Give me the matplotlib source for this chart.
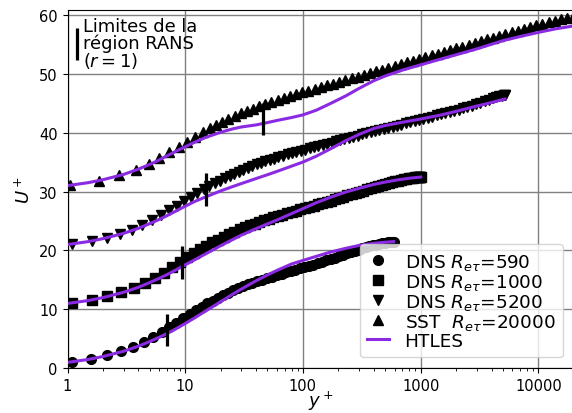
import matplotlib
matplotlib.use("Agg")
import matplotlib.pyplot as plt
import matplotlib.ticker as mticker
import numpy as np

# ---------------- data ----------------
offsets = [0, 10, 20, 30]

dns590 = [(1.09, 1.15), (1.57, 1.62), (2.15, 2.2), (2.83, 2.87), (3.62, 3.65), (4.47, 4.45),
          (5.36, 5.3), (6.31, 6.1), (7.3, 6.95), (8.4, 7.75), (9.6, 8.5), (10.9, 9.2),
          (12.3, 9.85), (13.8, 10.45), (15.4, 11.0), (17.1, 11.5), (19, 12.0), (21, 12.45),
          (23, 12.85), (25.5, 13.25), (28, 13.6), (31, 13.95), (34, 14.25), (37, 14.5),
          (41, 14.8), (45, 15.05), (50, 15.3), (55, 15.55), (60, 15.8), (66, 16.05),
          (72, 16.3), (79, 16.5), (86, 16.7), (94, 16.95), (103, 17.15), (112, 17.35),
          (122, 17.6), (133, 17.85), (145, 18.05), (158, 18.3), (172, 18.55), (187, 18.8),
          (203, 19.0), (220, 19.25), (238, 19.5), (257, 19.7), (277, 19.95), (298, 20.15),
          (320, 20.35), (343, 20.55), (367, 20.7), (392, 20.85), (418, 21.0), (445, 21.1),
          (472, 21.2), (500, 21.3), (527, 21.35), (552, 21.4), (572, 21.42), (585, 21.44),
          (590, 21.45)]

dns1000 = [(1.09, 1.15), (1.6, 1.65), (2.17, 2.22), (2.86, 2.9), (3.66, 3.68), (4.55, 4.52),
           (5.5, 5.4), (6.55, 6.25), (7.7, 7.2), (8.95, 8.1), (10.3, 8.85), (11.8, 9.55),
           (13.4, 10.2), (15.1, 10.8), (17, 11.35), (19, 11.85), (21.2, 12.35), (23.6, 12.8),
           (26.2, 13.2), (29, 13.6), (32, 13.95), (35.3, 14.25), (38.8, 14.55), (42.6, 14.85),
           (46.7, 15.1), (51, 15.35), (56, 15.6), (61, 15.85), (67, 16.05), (73, 16.3),
           (80, 16.5), (87, 16.7), (95, 16.95), (104, 17.15), (113, 17.35), (123, 17.55),
           (134, 17.8), (146, 18.0), (159, 18.25), (173, 18.45), (188, 18.7), (204, 18.9),
           (221, 19.1), (239, 19.35), (259, 19.55), (280, 19.75), (302, 19.95), (326, 20.15),
           (351, 20.35), (378, 20.55), (406, 20.75), (436, 20.9), (467, 21.1), (500, 21.25),
           (534, 21.4), (569, 21.55), (605, 21.7), (642, 21.85), (680, 21.95), (718, 22.05),
           (756, 22.15), (793, 22.25), (829, 22.3), (863, 22.35), (895, 22.4), (923, 22.45),
           (948, 22.48), (968, 22.5), (984, 22.5), (995, 22.5), (1000, 22.5)]

dns5200 = [(1.1, 1.1), (1.6, 1.6), (2.15, 2.15), (2.8, 2.8), (3.5, 3.5), (4.3, 4.3),
           (5.2, 5.15), (6.2, 5.95), (7.3, 6.8), (8.5, 7.6), (9.8, 8.4), (11.2, 9.1),
           (12.7, 9.75), (14.3, 10.35), (16, 10.9), (17.8, 11.4), (19.7, 11.85), (21.7, 12.25),
           (23.8, 12.65), (26, 13.0), (28.5, 13.35), (31, 13.7), (34, 14.0), (37, 14.3),
           (40.5, 14.6), (44, 14.85), (48, 15.1), (52.5, 15.4), (57, 15.6), (62, 15.85),
           (68, 16.05), (74, 16.3), (81, 16.5), (88, 16.7), (96, 16.9), (105, 17.1),
           (114, 17.3), (124, 17.5), (135, 17.7), (147, 17.9), (160, 18.1), (175, 18.3),
           (190, 18.5), (207, 18.7), (225, 18.9), (245, 19.1), (267, 19.3), (291, 19.5),
           (317, 19.7), (345, 19.85), (376, 20.05), (410, 20.2), (447, 20.4), (487, 20.55),
           (530, 20.75), (578, 20.95), (630, 21.15), (686, 21.35), (748, 21.55), (815, 21.75),
           (888, 21.95), (968, 22.1), (1055, 22.3), (1150, 22.5), (1253, 22.7), (1366, 22.9),
           (1489, 23.1), (1623, 23.3), (1769, 23.5), (1928, 23.7), (2100, 23.9), (2290, 24.1),
           (2495, 24.35), (2720, 24.55), (2960, 24.8), (3220, 25.05), (3500, 25.3),
           (3790, 25.55), (4080, 25.8), (4370, 26.0), (4640, 26.15), (4880, 26.25),
           (5060, 26.3), (5170, 26.35), (5200, 26.35)]

sst20000 = [(1.05, 1.05), (1.86, 1.85), (2.75, 2.75), (3.82, 3.72), (4.95, 4.75), (6.03, 5.75),
            (7.32, 6.65), (8.83, 7.6), (10.4, 8.45), (12.1, 9.25), (14.1, 10.05), (16.2, 10.75),
            (18.3, 11.3), (20.6, 11.85), (23.3, 12.35), (26.3, 12.8), (29.6, 13.25),
            (33.4, 13.65), (37.7, 14.05), (42.5, 14.45), (48, 14.85), (54, 15.2), (61, 15.55),
            (69, 15.9), (77.6, 16.2), (87.5, 16.5), (98.7, 16.8), (111, 17.1), (126, 17.4),
            (142, 17.7), (160, 18.0), (180, 18.3), (203, 18.6), (229, 18.9), (259, 19.2),
            (292, 19.5), (329, 19.8), (371, 20.1), (419, 20.4), (472, 20.7), (533, 21.0),
            (601, 21.3), (678, 21.6), (765, 21.9), (863, 22.2), (973, 22.5), (1098, 22.8),
            (1238, 23.1), (1397, 23.4), (1576, 23.7), (1777, 24.0), (2005, 24.3), (2261, 24.6),
            (2551, 24.9), (2877, 25.2), (3245, 25.5), (3661, 25.8), (4129, 26.1), (4658, 26.4),
            (5254, 26.7), (5927, 27.0), (6685, 27.3), (7541, 27.6), (8506, 27.9), (9595, 28.2),
            (10823, 28.5), (12209, 28.75), (13772, 29.0), (15535, 29.2), (17523, 29.4),
            (19766, 29.55)]

htles590_y = [1, 1.5, 2, 3, 4, 5, 6, 7, 8, 10, 12, 15, 20, 25, 30, 40, 50, 60, 80, 100,
              130, 170, 230, 300, 400, 500, 590]
htles590_u = [1.0, 1.5, 2.0, 2.9, 3.75, 4.55, 5.25, 5.9, 6.5, 7.6, 8.55, 9.75, 11.3, 12.5,
              13.45, 14.85, 15.85, 16.6, 17.7, 18.3, 19.0, 19.7, 20.35, 20.85, 21.2, 21.4, 21.5]

htles1000_y = [1, 1.5, 2, 3, 4, 5, 6, 7, 8, 10, 12, 15, 20, 25, 30, 40, 50, 60, 80, 100,
               130, 170, 230, 300, 400, 500, 650, 800, 1000]
htles1000_u = [1.0, 1.5, 2.0, 2.9, 3.75, 4.55, 5.25, 5.9, 6.5, 7.55, 8.4, 9.45, 10.8, 11.8,
               12.6, 13.7, 14.5, 15.15, 16.25, 17.1, 18.1, 19.0, 19.9, 20.55, 21.2, 21.6,
               22.0, 22.25, 22.45]

htles5200_y = [1, 1.5, 2, 3, 4, 5, 6, 7, 8, 10, 12, 15, 20, 25, 30, 40, 50, 60, 80, 100,
               130, 170, 230, 300, 400, 500, 700, 1000, 1500, 2000, 3000, 4000, 5200]
htles5200_u = [1.0, 1.5, 2.0, 2.9, 3.75, 4.55, 5.25, 5.9, 6.5, 7.5, 8.3, 9.1, 10.1, 10.8,
               11.35, 12.2, 12.85, 13.4, 14.3, 15.0, 16.0, 17.2, 18.6, 19.7, 20.7, 21.2,
               21.75, 22.3, 23.0, 23.6, 24.5, 25.1, 25.7]

htles20000_y = [1, 1.5, 2, 3, 4, 5, 6, 7, 8, 10, 12, 15, 20, 25, 30, 40, 50, 60, 80, 100,
                130, 170, 230, 300, 400, 500, 700, 1000, 1500, 2000, 3000, 5000, 7000,
                10000, 14000, 20000]
htles20000_u = [1.0, 1.5, 2.0, 2.9, 3.8, 4.6, 5.35, 6.05, 6.65, 7.6, 8.35, 9.2, 10.05, 10.6,
                10.95, 11.3, 11.7, 12.05, 12.55, 13.0, 13.8, 14.9, 16.2, 17.5, 18.8, 19.6,
                20.6, 21.5, 22.5, 23.2, 24.2, 25.6, 26.3, 27.0, 27.6, 28.1]

# RANS-region limits (vertical bars): position y+ and extent in plotted U+
bar_x = [7.0, 9.3, 15.0, 46.0]
bar_lo = [3.7, 15.2, 27.6, 39.6]
bar_hi = [9.15, 20.7, 33.2, 45.1]

labels = [r"DNS $R_{e\tau}$=590", r"DNS $R_{e\tau}$=1000", r"DNS $R_{e\tau}$=5200",
          r"SST  $R_{e\tau}$=20000"]
markers = ["o", "s", "v", "^"]
xticks = [1, 10, 100, 1000, 10000]
xtick_labels = ["1", "10", "100", "1000", "10000"]
yticks = [0, 10, 20, 30, 40, 50, 60]

# ---------------- figure ----------------
W, H = 572, 414
fig = plt.figure(figsize=(W / 100, H / 100), dpi=100)
ax = fig.add_axes([67.5 / W, (H - 369.3) / H, 506.3 / W, 358.6 / H])

purple = "#8A2BE2"
series = [dns590, dns1000, dns5200, sst20000]
htles = [(htles590_y, htles590_u), (htles1000_y, htles1000_u),
         (htles5200_y, htles5200_u), (htles20000_y, htles20000_u)]

handles = []
for s, off, mk, lab in zip(series, offsets, markers, labels):
    arr = np.array(s)
    h, = ax.plot(arr[:, 0], arr[:, 1] + off, linestyle="none", marker=mk,
                 color="black", markersize=7, label=lab, zorder=3)
    handles.append(h)

for (hy, hu), off in zip(htles, offsets):
    hl, = ax.plot(hy, np.array(hu) + off, color=purple, lw=2.2, zorder=4, label="HTLES")
handles.append(hl)

ax.vlines(bar_x, bar_lo, bar_hi, colors="black", lw=2.3, zorder=5)

ax.set_xscale("log")
ax.set_xlim(1, 20000)
ax.set_ylim(0, 60.85)
ax.set_xticks(xticks)
ax.set_xticklabels(xtick_labels)
ax.xaxis.set_minor_locator(mticker.LogLocator(base=10, subs=np.arange(2, 10)))
ax.xaxis.set_minor_formatter(mticker.NullFormatter())
ax.set_yticks(yticks)
ax.tick_params(labelsize=10.5)
ax.grid(True, which="major", color="#808080", lw=1.0)
ax.set_axisbelow(True)

ax.set_xlabel(r"$y^+$", fontsize=13, labelpad=-3)
ax.set_ylabel(r"$U^+$", fontsize=13, labelpad=4)

leg = ax.legend(handles=handles, loc="lower right", fontsize=13.3, labelspacing=0.0,
                handlelength=1.15, handletextpad=0.86, borderaxespad=0.6, borderpad=0.4)

# annotation: RANS region limits
ax.plot([0.0182, 0.0182], [(369.3 - 29) / 358.6, (369.3 - 61) / 358.6],
        transform=ax.transAxes, color="black", lw=2.3, solid_capstyle="butt", zorder=6)
ax.text(0.030, 0.980, "Limites de la\nrégion RANS\n($r=1$)", transform=ax.transAxes,
        ha="left", va="top", fontsize=12.9, linespacing=0.88, zorder=6)

fig.savefig("out.png", dpi=100)
